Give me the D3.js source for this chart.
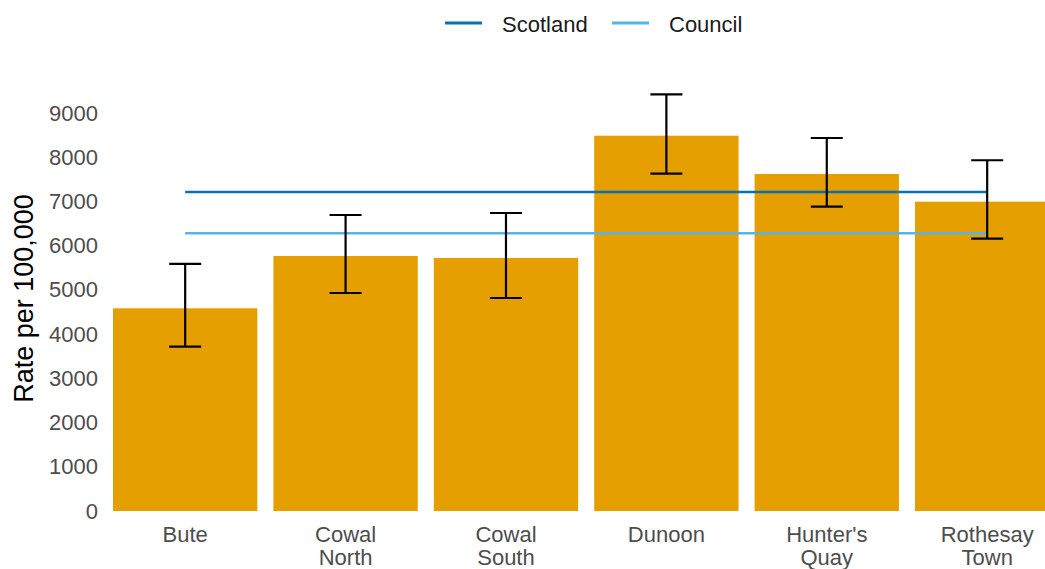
<!DOCTYPE html>
<html><head><meta charset="utf-8">
<script src="https://cdn.jsdelivr.net/npm/d3@7"></script>
<style>body{margin:0;background:#fff;overflow:hidden}svg{display:block;font-family:"Liberation Sans",Arial,sans-serif}</style>
</head><body><svg id="c" width="1045" height="569"></svg>
<script>
const categories = ["Bute", "Cowal North", "Cowal South", "Dunoon", "Hunter's Quay", "Rothesay Town"];
const rates = [4584, 5766, 5721, 8487, 7621, 6995];
const lowerCI = [3716, 4930, 4817, 7628, 6882, 6158];
const upperCI = [5586, 6694, 6739, 9423, 8435, 7931];
const scotlandRate = 7214;
const councilRate = 6280;
const yTicks = [0, 1000, 2000, 3000, 4000, 5000, 6000, 7000, 8000, 9000];
const seriesNames = ["Scotland", "Council"];
const seriesColors = ["#0a72b0", "#56b4e9"];

const svg = d3.select("#c");
const x = d3.scaleBand().domain(categories).range([96.96, 1075.4]).paddingInner(0.1).paddingOuter(0.1);
const y = d3.scaleLinear().domain([0, 9000]).range([511, 113]);

// bars
svg.append("g").selectAll("rect").data(categories).join("rect")
  .attr("x", d => x(d)).attr("width", x.bandwidth())
  .attr("y", (d, i) => y(rates[i])).attr("height", (d, i) => y(0) - y(rates[i]))
  .attr("fill", "#E69F00");

// reference lines
const x0 = x(categories[0]) + x.bandwidth() / 2;
const x1 = x(categories[categories.length - 1]) + x.bandwidth() / 2;
[scotlandRate, councilRate].forEach((v, i) => {
  svg.append("line").attr("x1", x0).attr("x2", x1).attr("y1", y(v)).attr("y2", y(v))
    .attr("stroke", seriesColors[i]).attr("stroke-width", 2.6);
});

// error bars
const cap = 16;
const eb = svg.append("g").attr("stroke", "#000").attr("stroke-width", 2.2).attr("fill", "none");
categories.forEach((c, i) => {
  const cx = x(c) + x.bandwidth() / 2;
  eb.append("line").attr("x1", cx).attr("x2", cx).attr("y1", y(lowerCI[i])).attr("y2", y(upperCI[i]));
  eb.append("line").attr("x1", cx - cap).attr("x2", cx + cap).attr("y1", y(lowerCI[i])).attr("y2", y(lowerCI[i]));
  eb.append("line").attr("x1", cx - cap).attr("x2", cx + cap).attr("y1", y(upperCI[i])).attr("y2", y(upperCI[i]));
});

// y axis
const yAxis = svg.append("g").attr("transform", "translate(98,0)")
  .call(d3.axisLeft(y).tickValues(yTicks).tickSize(0).tickPadding(0).tickFormat(d3.format("d")));
yAxis.select(".domain").remove();
yAxis.selectAll("text").attr("font-size", 22).attr("fill", "#4d4d4d").attr("font-family", "Liberation Sans, Arial, sans-serif");

// x axis
const xAxis = svg.append("g").attr("transform", "translate(0,511)")
  .call(d3.axisBottom(x).tickSize(0).tickPadding(0));
xAxis.select(".domain").remove();
xAxis.selectAll("text").attr("font-size", 22).attr("fill", "#4d4d4d").attr("font-family", "Liberation Sans, Arial, sans-serif")
  .each(function(d) {
    const t = d3.select(this);
    const words = d.split(" ");
    t.text(null).attr("y", 0).attr("dy", null);
    words.forEach((w, k) => {
      t.append("tspan").attr("x", 0).attr("y", 30.5 + k * 23.5).text(w);
    });
  });

// y title
svg.append("text").attr("transform", "translate(33,298.5) rotate(-90)")
  .attr("text-anchor", "middle").attr("font-size", 27).attr("fill", "#000").text("Rate per 100,000");

// legend
const legX = [445, 612];
seriesNames.forEach((n, i) => {
  svg.append("line").attr("x1", legX[i]).attr("x2", legX[i] + 37).attr("y1", 23).attr("y2", 23)
    .attr("stroke", seriesColors[i]).attr("stroke-width", 3);
  svg.append("text").attr("x", legX[i] + 57).attr("y", 31.5).attr("font-size", 22).attr("fill", "#1a1a1a").text(n);
});
</script></body></html>
